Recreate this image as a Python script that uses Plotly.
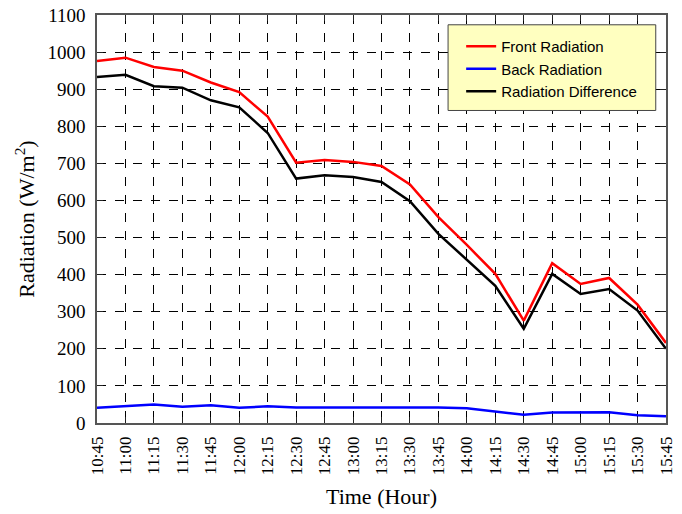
import plotly.graph_objects as go

times = ["10:45", "11:00", "11:15", "11:30", "11:45", "12:00", "12:15", "12:30", "12:45",
         "13:00", "13:15", "13:30", "13:45", "14:00", "14:15", "14:30", "14:45", "15:00",
         "15:15", "15:30", "15:45"]
front = [976, 985, 960, 950, 918, 892, 826, 702, 709, 704, 693, 643, 555, 480, 402, 276,
         431, 375, 391, 319, 216]
back = [41, 46, 50, 44, 48, 41, 45, 42, 42, 42, 43, 42, 42, 40, 30, 22, 28, 28, 29, 21, 18]
diff = [933, 939, 908, 904, 870, 851, 782, 659, 668, 663, 650, 598, 510, 440, 370, 254,
        402, 348, 361, 303, 200]
y_ticks = list(range(0, 1101, 100))

fig = go.Figure()
fig.add_trace(go.Scatter(x=times, y=front, mode="lines", name="Front Radiation",
                         line=dict(color="#ff0000", width=2.5)))
fig.add_trace(go.Scatter(x=times, y=back, mode="lines", name="Back Radiation",
                         line=dict(color="#0000ff", width=2.5)))
fig.add_trace(go.Scatter(x=times, y=diff, mode="lines", name="Radiation Difference",
                         line=dict(color="#000000", width=2.5)))

axis_common = dict(
    showline=True, linecolor="#555555", linewidth=1.5, mirror="ticks",
    ticks="inside", ticklen=6, tickcolor="#222222", tickwidth=1,
    showgrid=True, gridcolor="#000000", gridwidth=1, griddash="dash",
    zeroline=False, automargin=False, ticklabeloverflow="allow",
)

# legend box (yellow panel) drawn as a shape, legend text on top
fig.add_shape(type="rect", xref="paper", yref="paper",
              x0=0.617, x1=0.982, y0=0.766, y1=0.976,
              fillcolor="#ffffc0", line=dict(color="#444444", width=1), layer="above")

# page body has an 8px default margin, so the figure is sized/offset to compensate
fig.update_layout(
    width=674, height=506,
    margin=dict(l=89, r=16, t=7, b=91),
    paper_bgcolor="white", plot_bgcolor="white",
    showlegend=True,
    legend=dict(
        x=0.640, y=0.963, xanchor="left", yanchor="top",
        bgcolor="rgba(0,0,0,0)", borderwidth=0,
        font=dict(family="Liberation Sans", size=15, color="#000000"),
    ),
    xaxis=dict(
        **axis_common,
        type="category", range=[0, 20], tickangle=-90, ticklabelstandoff=5,
        tickfont=dict(family="Liberation Serif", size=17, color="#000000"),
        title=dict(text="Time (Hour)", font=dict(family="Liberation Serif", size=22, color="#000000"),
                   standoff=14),
    ),
    yaxis=dict(
        **axis_common,
        range=[0, 1100], tickvals=y_ticks, ticklabelstandoff=6,
        tickfont=dict(family="Liberation Serif", size=19, color="#000000"),
        title=dict(text="Radiation (W/m<sup>2</sup>)",
                   font=dict(family="Liberation Serif", size=22, color="#000000"), standoff=7),
    ),
)

fig.write_html("out.html")
